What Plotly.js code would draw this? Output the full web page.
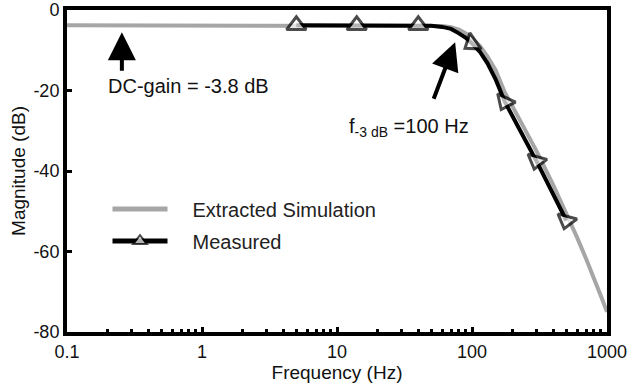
<!DOCTYPE html>
<html>
<head>
<meta charset="utf-8">
<script src="https://cdn.plot.ly/plotly-3.0.1.min.js"></script>
<style>html,body{margin:0;padding:0;background:#fff;}#chart{width:641px;height:386px;}</style>
</head>
<body>
<div id="chart"></div>
<script>
// Extracted simulation curve
const simFreq = [0.1, 1, 10, 30, 50, 60, 70, 80, 90, 100, 115, 130, 150, 175, 200, 250, 300, 400, 500, 600, 700, 800, 900, 1000];
const simMag  = [-3.8, -3.8, -3.8, -3.8, -3.85, -4.0, -4.3, -4.9, -5.8, -7.0, -9.0, -11.5, -15.0, -20.5, -24.0, -29.8, -35.0, -43.5, -50.5, -56.5, -61.8, -66.5, -71, -75];

// Measured curve (line) and measured sample points (triangles)
const measCurveFreq = [5, 14, 40, 50, 60, 70, 80, 90, 100, 115, 130, 150, 175, 300, 500];
const measCurveMag  = [-3.8, -3.8, -3.8, -3.9, -4.2, -4.7, -5.8, -6.9, -8.3, -10.5, -13.2, -17.3, -22.8, -37.5, -52.3];
const measPointFreq = [5, 14, 40, 100, 175, 300, 500];
const measPointMag  = [-3.8, -3.8, -3.8, -8.3, -22.8, -37.5, -52.3];

const xTickVals = [0.1, 1, 10, 100, 1000];
const xTickText = ['0.1', '1', '10', '100', '1000'];
const yTickVals = [0, -20, -40, -60, -80];
const yTickText = ['0', '-20', '-40', '-60', '-80'];

const FONT = 'Liberation Sans, Arial, sans-serif';

// merged measured trace: markers only at measured sample points
const sizes = measCurveFreq.map(f => measPointFreq.includes(f) ? 17 : 0);
const slopeAngles = {100: 235, 175: 205, 300: 195, 500: 195};
const angles = measCurveFreq.map(f => slopeAngles[f] !== undefined ? slopeAngles[f] : 0);

// minor ticks 2..9 per decade
const minorVals = [];
for (let d = -1; d < 3; d++) for (let m = 2; m <= 9; m++) minorVals.push(m * Math.pow(10, d));

const traces = [
  {
    x: simFreq, y: simMag, type: 'scatter', mode: 'lines',
    name: '\u2002\u2002Extracted Simulation', legendgroup: 'a',
    line: {color: '#a6a6a6', width: 4}
  },
  {
    x: measCurveFreq, y: measCurveMag, type: 'scatter', mode: 'lines+markers',
    name: '\u2002\u2002Measured', legendgroup: 'b',
    line: {color: '#000', width: 4},
    marker: {symbol: 'triangle-up', size: sizes, angle: angles, color: '#fff',
             line: {color: '#000', width: 3}}
  }
];

const layout = {
  width: 641, height: 386,
  margin: {l: 67, r: 34, t: 10, b: 54},
  paper_bgcolor: '#fff', plot_bgcolor: '#fff',
  font: {family: FONT, color: '#000', size: 18},
  showlegend: true,
  legend: {
    x: 0.075, y: 0.4425, xanchor: 'left', yanchor: 'top',
    bgcolor: 'rgba(0,0,0,0)', borderwidth: 0,
    font: {family: FONT, size: 20, color: '#222'},
    itemwidth: 55, itemsizing: 'constant', tracegroupgap: 3
  },
  xaxis: {
    type: 'log', range: [-1, 3],
    tickmode: 'array', tickvals: xTickVals, ticktext: xTickText,
    ticks: 'inside', ticklen: 5, tickwidth: 3, tickcolor: '#000',
    minor: {tickmode: 'array', tickvals: minorVals, ticks: 'inside', ticklen: 3, tickwidth: 3, tickcolor: '#000', showgrid: false},
    showline: true, linewidth: 4, linecolor: '#000', mirror: true,
    showgrid: false, zeroline: false,
    tickfont: {family: FONT, size: 18, color: '#111'},
    title: {text: 'Frequency (Hz)', font: {family: FONT, size: 19, color: '#111'}, standoff: 0}
  },
  yaxis: {
    range: [-80, 0],
    tickmode: 'array', tickvals: yTickVals, ticktext: yTickText,
    ticks: 'inside', ticklen: 5, tickwidth: 3, tickcolor: '#000',
    showline: true, linewidth: 4, linecolor: '#000', mirror: true,
    showgrid: false, zeroline: false,
    tickfont: {family: FONT, size: 18, color: '#111'},
    title: {text: 'Magnitude (dB)', font: {family: FONT, size: 19, color: '#111'}, standoff: 4}
  },
  annotations: [
    {x: Math.log10(0.255), y: -5.5, xref: 'x', yref: 'y', text: '', showarrow: true,
     ax: 0, ay: 40, arrowhead: 2, arrowsize: 1.4, arrowwidth: 4, arrowcolor: '#000'},
    {x: Math.log10(0.195), y: -18.9, xref: 'x', yref: 'y', xanchor: 'left', yanchor: 'middle',
     text: 'DC-gain = -3.8 dB', showarrow: false, font: {family: FONT, size: 20, color: '#111'}},
    {x: Math.log10(75), y: -8, xref: 'x', yref: 'y', text: '', showarrow: true,
     ax: -22, ay: 58, arrowhead: 2, arrowsize: 1.4, arrowwidth: 4, arrowcolor: '#000'},
    {x: Math.log10(11.8), y: -29.1, xref: 'x', yref: 'y', xanchor: 'left', yanchor: 'middle',
     text: 'f<sub>-3 dB</sub> =100 Hz', showarrow: false, font: {family: FONT, size: 20, color: '#111'}}
  ]
};

Plotly.newPlot('chart', traces, layout, {displayModeBar: false, staticPlot: true});
</script>
</body>
</html>
